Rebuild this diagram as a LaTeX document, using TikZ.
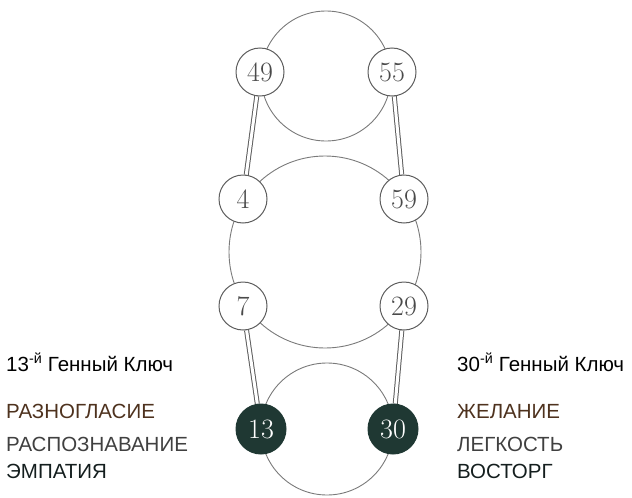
\documentclass[tikz,border=0pt]{standalone}
\usepackage{fontspec}
\newfontfamily\keyfont{Liberation Sans}
\usepackage{tikz}
\usetikzlibrary{positioning, backgrounds}
\usepackage{xcolor}
\definecolor{ringgray}{HTML}{7A7A7A}
\definecolor{gategray}{HTML}{5E5E5E}
\definecolor{numgray}{HTML}{4A4A4A}
\definecolor{keydark}{HTML}{1F3833}
\definecolor{shadowbrown}{HTML}{4E321E}
\definecolor{giftgray}{HTML}{404040}
\definecolor{siddhidark}{HTML}{141E1E}

\begin{document}
\begin{tikzpicture}[x=1pt, y=-1pt,
    ring/.style={draw=ringgray, line width=0.9pt},
    gate/.style={circle, draw=gategray, line width=1pt, fill=white, minimum size=48pt, inner sep=0pt, text=numgray, font=\fontsize{28}{28}\selectfont},
    keygate/.style={gate, draw=keydark, fill=keydark, text=white, minimum size=50pt},
    pair/.style={draw=gategray, line width=1pt, double=white, double distance=3pt},
    keytext/.style={anchor=base west, inner sep=0pt, font=\keyfont\fontsize{20.5}{20.5}\selectfont}]
    \useasboundingbox (0,0) rectangle (632,498);

    % gates
    \node[gate] (g49) at (260,72) {49};
    \node[gate] (g55) at (392,72) {55};
    \node[gate] (g4) at (243,199) {4};
    \node[gate] (g59) at (404,199) {59};
    \node[gate] (g7) at (243,306) {7};
    \node[gate] (g29) at (404,306) {29};
    \node[keygate] (g13) at (261,429) {13};
    \node[keygate] (g30) at (393,429) {30};

    \begin{scope}[on background layer]
        \draw[ring] (326,76) circle[radius=65pt];
        \draw[ring] (325,252) circle[radius=96pt];
        \draw[ring] (327,429) circle[radius=66pt];
        \draw[pair] (g49) -- (g4);
        \draw[pair] (g55) -- (g59);
        \draw[pair] (g7) -- (g13);
        \draw[pair] (g29) -- (g30);
    \end{scope}

    % key labels
    \node[keytext] (head13) at (6,371) {13\textsuperscript{-й} Генный Ключ};
    \node[keytext, text=shadowbrown] (shadow13) at (6,418) {РАЗНОГЛАСИЕ};
    \node[keytext, text=giftgray] (gift13) at (6,451) {РАСПОЗНАВАНИЕ};
    \node[keytext, text=siddhidark] (siddhi13) at (6,478) {ЭМПАТИЯ};

    \node[keytext] (head30) at (457,371) {30\textsuperscript{-й} Генный Ключ};
    \node[keytext, text=shadowbrown] (shadow30) at (457,418) {ЖЕЛАНИЕ};
    \node[keytext, text=giftgray] (gift30) at (457,451) {ЛЕГКОСТЬ};
    \node[keytext, text=siddhidark] (siddhi30) at (457,478) {ВОСТОРГ};
\end{tikzpicture}
\end{document}
